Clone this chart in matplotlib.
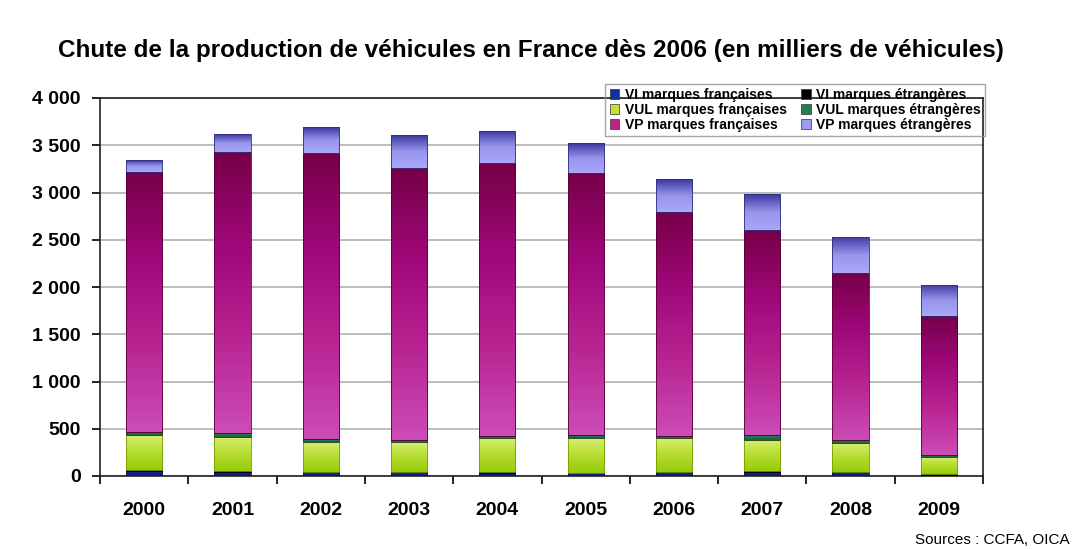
import numpy as np
import matplotlib
matplotlib.use('Agg')
import matplotlib.pyplot as plt
from matplotlib.colors import LinearSegmentedColormap
from matplotlib.patches import Patch

plt.rcParams['font.family'] = ['Liberation Sans Narrow', 'Liberation Sans', 'DejaVu Sans']

# données (milliers de véhicules)
annees = ['2000', '2001', '2002', '2003', '2004', '2005', '2006', '2007', '2008', '2009']
vi_fr = [55, 45, 39, 39, 35, 29, 39, 45, 39, 15]
vi_etr = [5, 5, 5, 5, 5, 5, 5, 5, 5, 5]
vul_fr = [370, 360, 320, 320, 360, 363, 356, 335, 307, 180]
vul_etr = [32, 45, 32, 20, 28, 35, 21, 53, 35, 18]
vp_fr = [2758, 2977, 3019, 2875, 2884, 2778, 2376, 2165, 1759, 1470]
vp_etr = [124, 187, 275, 349, 339, 314, 346, 378, 387, 331]

# couleurs de dégradé : du bas vers le haut
series = [
    ('VI marques françaises', vi_fr, ['#0a1a80', '#1a2a9a'], '#0a0a50'),
    ('VI marques étrangères', vi_etr, ['#000000', '#101010'], '#000000'),
    ('VUL marques françaises', vul_fr, ['#96cc08', '#b4dc30', '#daee70'], '#7a9a00'),
    ('VUL marques étrangères', vul_etr, ['#1e5e3c', '#2a8a5a'], '#154030'),
    ('VP marques françaises', vp_fr, ['#cc4cb6', '#b82492', '#a0087a', '#760048'], '#5a0035'),
    ('VP marques étrangères', vp_etr, ['#aaa8f8', '#9894ec', '#3a38a0'], '#30307a'),
]
legend_colors = ['#1030a0', '#000000', '#c8e030', '#1f8050', '#c0208c', '#9c9cf0']

fig = plt.figure(figsize=(10.89, 5.49), dpi=100)
ax = fig.add_axes([100 / 1089, 73 / 549, 883 / 1089, 378 / 549])

x = np.arange(len(annees))
width = 0.41
bottom = np.zeros(len(annees))
grad = np.linspace(0, 1, 128).reshape(-1, 1)
for name, vals, stops, edge in series:
    vals = np.array(vals, dtype=float)
    bars = ax.bar(x, vals, width, bottom=bottom, color='none', edgecolor=edge,
                  linewidth=0.6, zorder=3)
    cmap = LinearSegmentedColormap.from_list(name, stops)
    for b in bars:
        x0, y0 = b.get_x(), b.get_y()
        im = ax.imshow(grad, cmap=cmap, origin='lower', aspect='auto',
                       extent=(x0, x0 + b.get_width(), y0, y0 + b.get_height()),
                       zorder=2)
        im.set_clip_path(b)
    bottom += vals

ax.set_xlim(-0.5, len(annees) - 0.5)
ax.set_ylim(0, 4000)
ax.set_yticks(range(0, 4001, 500))
ax.set_yticklabels([f'{v:,}'.replace(',', ' ') for v in range(0, 4001, 500)],
                   fontsize=14, fontweight='bold')
ax.set_xticks(x)
ax.set_xticklabels(annees, fontsize=14, fontweight='bold')
ax.set_xticks(np.arange(-0.5, len(annees)), minor=True)
ax.tick_params(axis='x', which='major', length=0, pad=19)
ax.tick_params(axis='x', which='minor', length=6, width=1.2, direction='out')
ax.tick_params(axis='y', length=6, width=1.2, direction='out', pad=8)
ax.yaxis.grid(True, color='#b0b0b0', linewidth=1.2)
ax.set_axisbelow(True)
for s in ax.spines.values():
    s.set_linewidth(1.2)
    s.set_color('#202020')

fig.text(531 / 1089, 1 - 50 / 549,
         'Chute de la production de véhicules en France dès 2006 (en milliers de véhicules)',
         ha='center', va='center', fontsize=17.5, fontweight='bold')
fig.text(1070 / 1089, 1 - 540 / 549, 'Sources : CCFA, OICA',
         ha='right', va='center', fontsize=11)

handles = [Patch(facecolor=c, edgecolor='#303030', linewidth=0.5) for c in legend_colors]
labels = [s[0] for s in series]
order = [0, 2, 4, 1, 3, 5]
leg = fig.legend([handles[i] for i in order], [labels[i] for i in order], ncol=2,
                 loc='upper right', bbox_to_anchor=(985 / 1089, 1 - 84 / 549),
                 prop={'weight': 'bold', 'size': 10}, fancybox=False,
                 edgecolor='#909090', facecolor='none',
                 labelspacing=0.05, handlelength=0.7, handleheight=0.7,
                 handletextpad=0.4, columnspacing=1.0, borderpad=0.3,
                 borderaxespad=0)
leg.get_frame().set_linewidth(1.0)

fig.savefig('out.png', dpi=100)
